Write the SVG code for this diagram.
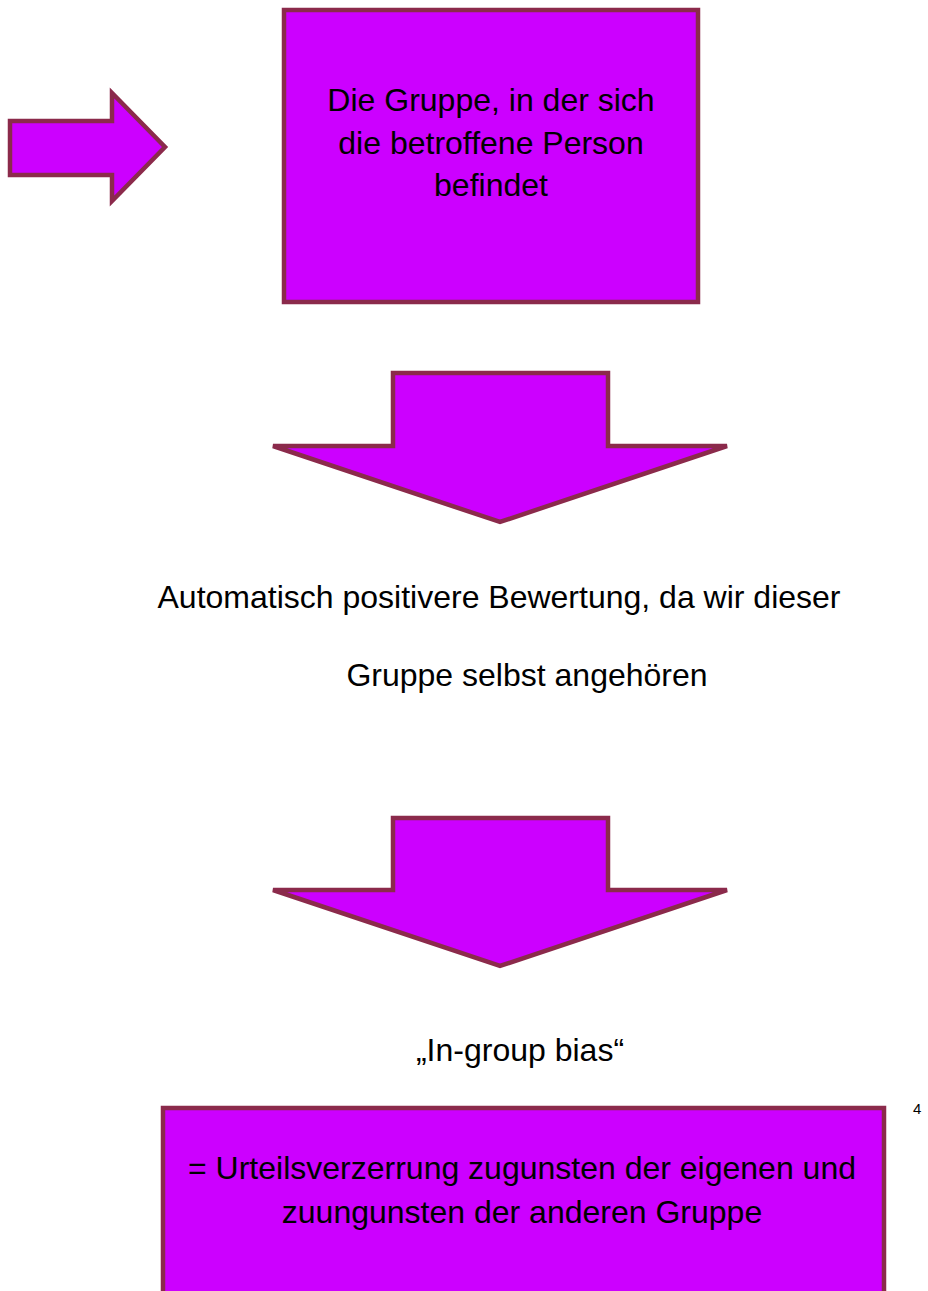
<svg xmlns="http://www.w3.org/2000/svg" width="928" height="1291" viewBox="0 0 928 1291">
<style>
.shape{fill:#CC00FF;stroke:#8B2A4B;stroke-width:4.5;stroke-linejoin:miter}
.t{font-family:"Liberation Sans",Arial,sans-serif;font-size:32px;fill:#000;text-anchor:middle}
.s{font-family:"Liberation Sans",Arial,sans-serif;font-size:15px;fill:#000}
</style>
<rect width="928" height="1291" fill="#fff"/>
<g id="connectors">
<polygon id="arrow-right" class="shape" points="10,121 112,121 112,93 165,147 112,201 112,175 10,175"/>
<polygon id="arrow-down-1" class="shape" points="393,373 608,373 608,446 727,446 500,522 273,446 393,446"/>
<polygon id="arrow-down-2" class="shape" points="393,818 608,818 608,890 727,890 500,966 273,890 393,890"/>
</g>
<g id="node-gruppe">
<rect class="shape" x="284" y="10" width="414" height="292"/>
<text class="t" x="491" y="111">Die Gruppe, in der sich</text>
<text class="t" x="491" y="154">die betroffene Person</text>
<text class="t" x="491" y="196">befindet</text>
</g>
<g id="node-bewertung">
<text class="t" x="499" y="608">Automatisch positivere Bewertung, da wir dieser</text>
<text class="t" x="527" y="686">Gruppe selbst angehören</text>
</g>
<g id="node-bias">
<text class="t" x="520" y="1061">„In-group bias“</text>
</g>
<g id="node-urteil">
<rect class="shape" x="163" y="1108" width="721" height="200"/>
<text class="t" x="522" y="1179">= Urteilsverzerrung zugunsten der eigenen und</text>
<text class="t" x="522" y="1223">zuungunsten der anderen Gruppe</text>
</g>
<g id="page-number">
<text class="s" x="913" y="1114">4</text>
</g>
</svg>
